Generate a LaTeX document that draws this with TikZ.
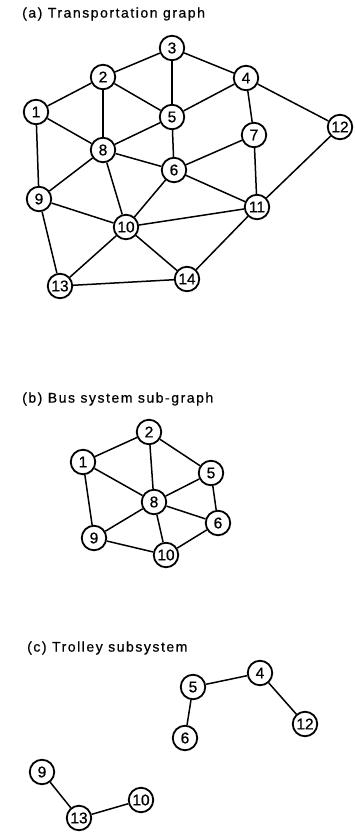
\documentclass[tikz,border=0pt]{standalone}
\usepackage{fontspec}
\setmainfont{Liberation Sans}
\begin{document}
\begin{tikzpicture}[x=1pt,y=-1pt,
  vtx/.style={circle,draw,line width=1.8pt,minimum size=24.5pt,inner sep=0pt,font=\fontsize{15.5}{15.5}\selectfont\addfontfeatures{FakeBold=0.8}},
  edge/.style={line width=1.5pt},
  ttl/.style={anchor=west,inner sep=0pt,font=\fontsize{14}{15}\selectfont\addfontfeatures{LetterSpace=11,FakeBold=0.6}}]
\useasboundingbox (0,0) rectangle (354,837);
% (a)
\node[ttl] (ta) at (22,14) {(a) Transportation graph};
\node[vtx] (a3) at (172,48) {3};
\node[vtx] (a2) at (103,77) {2};
\node[vtx] (a4) at (246,78) {4};
\node[vtx] (a1) at (36,112) {1};
\node[vtx] (a5) at (172,117) {5};
\node[vtx] (a7) at (254,135) {7};
\node[vtx] (a12) at (340,127) {12};
\node[vtx] (a8) at (103,150) {8};
\node[vtx] (a6) at (174,170) {6};
\node[vtx] (a9) at (39,199) {9};
\node[vtx] (a10) at (126,227) {10};
\node[vtx] (a11) at (257,207) {11};
\node[vtx] (a13) at (60,286) {13};
\node[vtx] (a14) at (187,279) {14};
\foreach \u/\v in {3/2,3/4,3/5,2/1,2/5,2/8,1/8,1/9,4/5,4/7,4/12,5/8,5/6,8/6,7/6,8/9,8/10,6/10,6/11,7/11,12/11,9/10,10/11,9/13,10/13,10/14,11/14,13/14}
  \draw[edge] (a\u) -- (a\v);
% (b)
\node[ttl] (tb) at (22,399) {(b) Bus system sub-graph};
\node[vtx] (b2) at (149,432) {2};
\node[vtx] (b1) at (83,462) {1};
\node[vtx] (b5) at (211,473) {5};
\node[vtx] (b8) at (154,502) {8};
\node[vtx] (b6) at (218,523) {6};
\node[vtx] (b9) at (94,538) {9};
\node[vtx] (b10) at (166,555) {10};
\foreach \u/\v in {2/1,2/5,2/8,1/8,1/9,5/8,5/6,8/6,8/9,8/10,9/10,6/10}
  \draw[edge] (b\u) -- (b\v);
% (c)
\node[ttl] (tc) at (27,648) {(c) Trolley subsystem};
\node[vtx] (c4) at (260,673) {4};
\node[vtx] (c5) at (193,687) {5};
\node[vtx] (c12) at (305,724) {12};
\node[vtx] (c6) at (185,738) {6};
\node[vtx] (c9) at (42,772) {9};
\node[vtx] (c10) at (141,800) {10};
\node[vtx] (c13) at (79,818) {13};
\foreach \u/\v in {4/5,5/6,4/12,9/13,13/10}
  \draw[edge] (c\u) -- (c\v);
\end{tikzpicture}
\end{document}
